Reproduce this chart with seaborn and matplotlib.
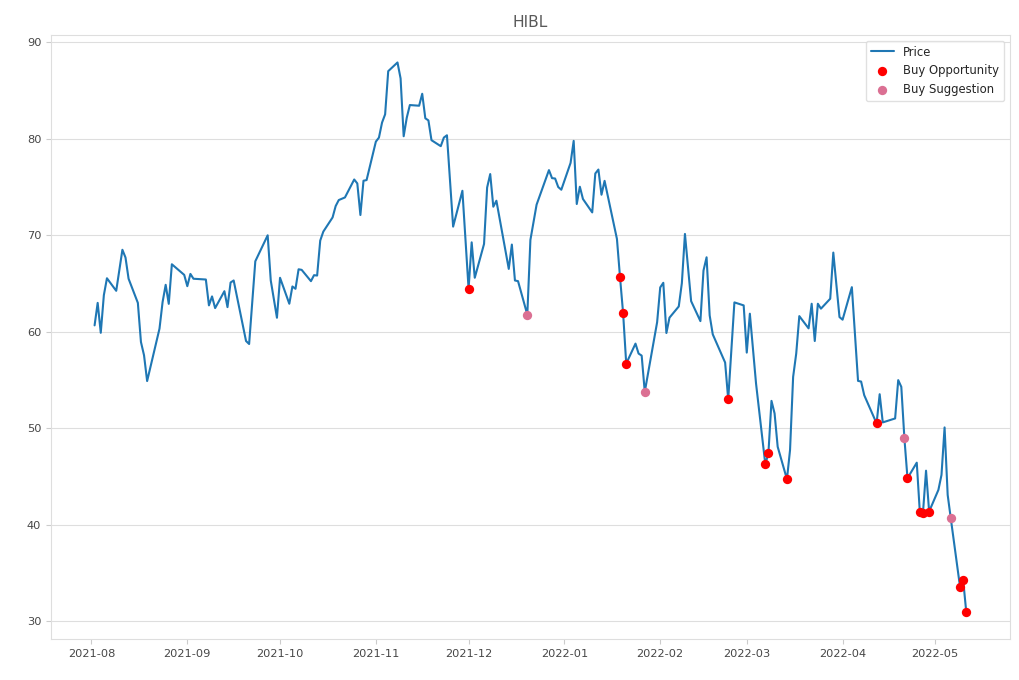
import pandas as pd
import numpy as np
import matplotlib
matplotlib.use("Agg")
import matplotlib.pyplot as plt
import matplotlib.dates as mdates
import seaborn as sns

title = "HIBL"

dates = [
    "2021-08-02", "2021-08-03", "2021-08-04", "2021-08-05", "2021-08-06", "2021-08-09", "2021-08-11",
    "2021-08-12", "2021-08-13", "2021-08-16", "2021-08-17", "2021-08-18", "2021-08-19", "2021-08-23",
    "2021-08-24", "2021-08-25", "2021-08-26", "2021-08-27", "2021-08-31", "2021-09-01", "2021-09-02",
    "2021-09-03", "2021-09-07", "2021-09-08", "2021-09-09", "2021-09-10", "2021-09-13", "2021-09-14",
    "2021-09-15", "2021-09-16", "2021-09-20", "2021-09-21", "2021-09-23", "2021-09-27", "2021-09-28",
    "2021-09-30", "2021-10-01", "2021-10-04", "2021-10-05", "2021-10-06", "2021-10-07", "2021-10-08",
    "2021-10-11", "2021-10-12", "2021-10-13", "2021-10-14", "2021-10-15", "2021-10-18", "2021-10-19",
    "2021-10-20", "2021-10-22", "2021-10-25", "2021-10-26", "2021-10-27", "2021-10-28", "2021-10-29",
    "2021-11-01", "2021-11-02", "2021-11-03", "2021-11-04", "2021-11-05", "2021-11-08", "2021-11-09",
    "2021-11-10", "2021-11-11", "2021-11-12", "2021-11-15", "2021-11-16", "2021-11-17", "2021-11-18",
    "2021-11-19", "2021-11-22", "2021-11-23", "2021-11-24", "2021-11-26", "2021-11-29", "2021-12-01",
    "2021-12-02", "2021-12-03", "2021-12-06", "2021-12-07", "2021-12-08", "2021-12-09", "2021-12-10",
    "2021-12-14", "2021-12-15", "2021-12-16", "2021-12-17", "2021-12-20", "2021-12-21", "2021-12-23",
    "2021-12-27", "2021-12-28", "2021-12-29", "2021-12-30", "2021-12-31", "2022-01-03", "2022-01-04",
    "2022-01-05", "2022-01-06", "2022-01-07", "2022-01-10", "2022-01-11", "2022-01-12", "2022-01-13",
    "2022-01-14", "2022-01-18", "2022-01-19", "2022-01-20", "2022-01-21", "2022-01-24", "2022-01-25",
    "2022-01-26", "2022-01-27", "2022-01-31", "2022-02-01", "2022-02-02", "2022-02-03", "2022-02-04",
    "2022-02-07", "2022-02-08", "2022-02-09", "2022-02-11", "2022-02-14", "2022-02-15", "2022-02-16",
    "2022-02-17", "2022-02-18", "2022-02-22", "2022-02-23", "2022-02-25", "2022-02-28", "2022-03-01",
    "2022-03-02", "2022-03-04", "2022-03-07", "2022-03-08", "2022-03-09", "2022-03-10", "2022-03-11",
    "2022-03-14", "2022-03-15", "2022-03-16", "2022-03-17", "2022-03-18", "2022-03-21", "2022-03-22",
    "2022-03-23", "2022-03-24", "2022-03-25", "2022-03-28", "2022-03-29", "2022-03-31", "2022-04-01",
    "2022-04-04", "2022-04-06", "2022-04-07", "2022-04-08", "2022-04-12", "2022-04-13", "2022-04-14",
    "2022-04-18", "2022-04-19", "2022-04-20", "2022-04-21", "2022-04-22", "2022-04-25", "2022-04-26",
    "2022-04-27", "2022-04-28", "2022-04-29", "2022-05-02", "2022-05-03", "2022-05-04", "2022-05-05",
    "2022-05-06", "2022-05-09", "2022-05-10", "2022-05-11",
]

price = [
    60.67, 63.0, 59.9, 63.8, 65.55, 64.25, 68.5,
    67.7, 65.5, 63.0, 58.95, 57.57, 54.9, 60.33,
    63.08, 64.87, 62.9, 67.0, 65.9, 64.73, 66.0,
    65.5, 65.42, 62.74, 63.67, 62.46, 64.21, 62.56,
    65.11, 65.32, 59.05, 58.74, 67.31, 70.0, 65.32,
    61.46, 65.6, 62.91, 64.7, 64.46, 66.48, 66.42,
    65.25, 65.87, 65.83, 69.45, 70.38, 71.85, 73.03,
    73.65, 73.92, 75.78, 75.37, 72.1, 75.65, 75.72,
    79.7, 80.12, 81.67, 82.53, 87.0, 87.9, 86.25,
    80.26, 82.18, 83.49, 83.42, 84.66, 82.12, 81.9,
    79.85, 79.23, 80.12, 80.36, 70.9, 74.61, 64.46,
    69.27, 65.6, 69.1, 74.95, 76.34, 72.96, 73.58,
    66.52, 69.04, 65.32, 65.25, 61.78, 69.52, 73.17,
    76.75, 75.92, 75.88, 75.0, 74.72, 77.5, 79.78,
    73.24, 75.03, 73.76, 72.37, 76.4, 76.81, 74.2,
    75.64, 69.62, 65.63, 61.91, 56.71, 58.78, 57.75,
    57.54, 53.78, 61.0, 64.6, 65.08, 59.88, 61.47,
    62.63, 65.04, 70.14, 63.18, 61.11, 66.35, 67.72,
    61.7, 59.74, 56.82, 53.0, 63.05, 62.74, 57.85,
    61.88, 54.65, 46.28, 47.42, 52.85, 51.55, 48.1,
    44.73, 47.76, 55.33, 57.75, 61.63, 60.36, 62.91,
    59.05, 62.91, 62.4, 63.43, 68.21, 61.53, 61.26,
    64.63, 54.92, 54.85, 53.44, 50.52, 53.54, 50.62,
    51.03, 55.0, 54.3, 48.97, 44.84, 46.45, 41.29,
    41.22, 45.62, 41.39, 43.63, 45.18, 50.1, 43.11,
    40.7, 33.58, 34.33, 31.03,
]

buy_opportunity_dates = [
    "2021-12-01", "2022-01-19", "2022-01-20", "2022-01-21", "2022-02-23", "2022-03-07",
    "2022-03-08", "2022-03-14", "2022-04-12", "2022-04-22", "2022-04-26", "2022-04-27",
    "2022-04-29", "2022-05-09", "2022-05-10", "2022-05-11",
]
buy_suggestion_dates = ["2021-12-20", "2022-01-27", "2022-04-21", "2022-05-06"]

df = pd.DataFrame({"Date": pd.to_datetime(dates), "Price": price})
lookup = dict(zip(df["Date"], df["Price"]))
opp = pd.DataFrame({"Date": pd.to_datetime(buy_opportunity_dates)})
opp["Price"] = opp["Date"].map(lookup)
sug = pd.DataFrame({"Date": pd.to_datetime(buy_suggestion_dates)})
sug["Price"] = sug["Date"].map(lookup)

sns.set_style("whitegrid", {
    "axes.edgecolor": "0.87",
    "grid.color": "0.87",
    "xtick.bottom": True,
    "ytick.left": True,
    "xtick.color": "0.8",
    "ytick.color": "0.8",
    "text.color": "0.3",
})
plt.rcParams["font.family"] = ["DejaVu Sans"]

fig = plt.figure(figsize=(10.2, 6.8), dpi=100)
ax = fig.add_axes([0.05, 0.0603, 0.94, 0.8882])

sns.lineplot(data=df, x="Date", y="Price", ax=ax, color="#1f77b4", linewidth=1.5, label="Price", zorder=2)
sns.scatterplot(data=opp, x="Date", y="Price", ax=ax, color="red", s=45, linewidth=0,
                label="Buy Opportunity", zorder=3)
sns.scatterplot(data=sug, x="Date", y="Price", ax=ax, color="palevioletred", s=45, linewidth=0,
                label="Buy Suggestion", zorder=3)

ax.xaxis.set_major_locator(mdates.MonthLocator())
ax.xaxis.set_major_formatter(mdates.DateFormatter("%Y-%m"))
ax.grid(axis="x", visible=False)
ax.grid(axis="y", visible=True, linewidth=0.8)
ax.tick_params(axis="both", length=3.5, width=0.8, labelsize=8.2, labelcolor="0.28")
ax.set_xlabel("")
ax.set_ylabel("")
ax.set_title(title, fontsize=11.2, color="0.35")
for s in ax.spines.values():
    s.set_linewidth(0.8)

leg = ax.legend(loc="upper right", fontsize=8.4, frameon=True)
leg.get_frame().set_edgecolor("0.85")
for t in leg.get_texts():
    t.set_color("0.15")

fig.savefig("out.png", dpi=100)
